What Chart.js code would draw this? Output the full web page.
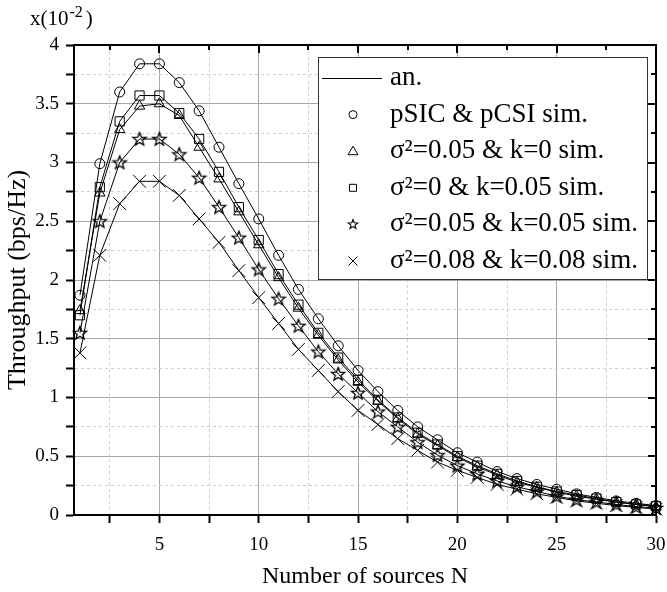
<!DOCTYPE html>
<html>
<head>
<meta charset="utf-8">
<script src="https://cdn.jsdelivr.net/npm/chart.js@4/dist/chart.umd.min.js"></script>
<style>
  html, body { margin: 0; padding: 0; background: #fff; }
  #wrap { width: 667px; height: 592px; }
</style>
</head>
<body>
<div id="wrap"><canvas id="chart" width="667" height="592"></canvas></div>
<script>
// number of sources N
const sources = [1, 2, 3, 4, 5, 6, 7, 8, 9, 10, 11, 12, 13, 14, 15, 16, 17, 18, 19, 20, 21, 22, 23, 24, 25, 26, 27, 28, 29, 30];

// throughput, x10^-2 bps/Hz
const pSicPcsi = [1.87, 2.99, 3.60, 3.84, 3.84, 3.68, 3.44, 3.13, 2.82, 2.52, 2.21, 1.92, 1.67, 1.44, 1.23, 1.05, 0.89, 0.75, 0.64, 0.53, 0.45, 0.37, 0.31, 0.26, 0.22, 0.18, 0.15, 0.12, 0.10, 0.08];
const s005k0 = [1.74, 2.74, 3.28, 3.48, 3.50, 3.40, 3.13, 2.86, 2.58, 2.30, 2.02, 1.76, 1.53, 1.32, 1.13, 0.97, 0.82, 0.69, 0.59, 0.49, 0.41, 0.34, 0.28, 0.235, 0.195, 0.16, 0.135, 0.11, 0.09, 0.07];
const s0k005 = [1.70, 2.79, 3.35, 3.57, 3.57, 3.42, 3.20, 2.92, 2.62, 2.34, 2.05, 1.79, 1.55, 1.34, 1.15, 0.98, 0.83, 0.70, 0.60, 0.50, 0.42, 0.35, 0.29, 0.24, 0.20, 0.17, 0.14, 0.11, 0.09, 0.075];
const s005k005 = [1.55, 2.50, 3.00, 3.20, 3.20, 3.07, 2.87, 2.62, 2.36, 2.09, 1.84, 1.61, 1.39, 1.20, 1.04, 0.88, 0.75, 0.62, 0.51, 0.42, 0.35, 0.29, 0.24, 0.20, 0.16, 0.13, 0.11, 0.09, 0.07, 0.06];
const s008k008 = [1.38, 2.21, 2.65, 2.84, 2.84, 2.72, 2.52, 2.32, 2.08, 1.85, 1.63, 1.41, 1.23, 1.05, 0.89, 0.77, 0.65, 0.55, 0.45, 0.38, 0.32, 0.26, 0.22, 0.18, 0.15, 0.12, 0.10, 0.08, 0.065, 0.05];

const xTicks = [2.5, 5, 7.5, 10, 12.5, 15, 17.5, 20, 22.5, 25, 27.5, 30];
const yTicks = [0, 0.25, 0.5, 0.75, 1, 1.25, 1.5, 1.75, 2, 2.25, 2.5, 2.75, 3, 3.25, 3.5, 3.75, 4];

const anLabel = 'an.';
const simLabels = ['pSIC & pCSI sim.', 'σ²=0.05 & k=0 sim.', 'σ²=0 & k=0.05 sim.', 'σ²=0.05 & k=0.05 sim.', 'σ²=0.08 & k=0.08 sim.'];

const SERIF = "'Liberation Serif', 'Times New Roman', serif";

function makeStar(outer, inner, width) {
    const size = Math.ceil(outer * 2 + 4);
    const c = document.createElement('canvas');
    c.width = size;
    c.height = size;
    const g = c.getContext('2d');
    g.strokeStyle = '#000';
    g.lineWidth = width;
    g.lineJoin = 'miter';
    g.beginPath();
    for (let i = 0; i < 10; i++) {
        const r = i % 2 === 0 ? outer : inner;
        const a = -Math.PI / 2 + i * Math.PI / 5;
        const px = size / 2 + r * Math.cos(a);
        const py = size / 2 + 0.5 + r * Math.sin(a);
        if (i === 0) g.moveTo(px, py); else g.lineTo(px, py);
    }
    g.closePath();
    g.stroke();
    return c;
}

const starBig = makeStar(7, 3, 1.3);
const starSmall = makeStar(5, 2.1, 1.1);

const series = [pSicPcsi, s005k0, s0k005, s005k005, s008k008];
const styles = [
    { pointStyle: 'circle', radius: 5 },
    { pointStyle: 'triangle', radius: 6 },
    { pointStyle: 'rect', radius: 6.5 },
    { pointStyle: starBig, radius: 6 },
    { pointStyle: 'crossRot', radius: 9 }
];

const toPoints = vals => sources.map((n, i) => ({ x: n, y: vals[i] }));

const lineSets = series.map((vals, i) => ({
    label: i === 0 ? anLabel : anLabel + ' ' + i,
    data: toPoints(vals),
    borderColor: '#000',
    borderWidth: 1,
    pointRadius: 0,
    showLine: true,
    fill: false,
    tension: 0
}));

const markerSets = series.map((vals, i) => ({
    label: simLabels[i],
    data: toPoints(vals),
    showLine: false,
    pointStyle: styles[i].pointStyle,
    pointRadius: styles[i].radius,
    pointBorderColor: '#000',
    pointBackgroundColor: 'rgba(0,0,0,0)',
    pointBorderWidth: 1,
    clip: false
}));

function isMajor(v, step) {
    return Math.abs(v / step - Math.round(v / step)) < 1e-9;
}

function drawLegendMarker(ctx, i, x, y) {
    ctx.beginPath();
    if (i === 0) {
        ctx.arc(x, y, 4, 0, Math.PI * 2);
    } else if (i === 1) {
        ctx.moveTo(x, y - 5);
        ctx.lineTo(x + 5, y + 3.5);
        ctx.lineTo(x - 5, y + 3.5);
        ctx.closePath();
    } else if (i === 2) {
        ctx.rect(x - 3.5, y - 3.5, 7, 7);
    } else if (i === 3) {
        ctx.drawImage(starSmall, Math.round(x - starSmall.width / 2), Math.round(y - starSmall.height / 2));
        return;
    } else {
        ctx.moveTo(x - 4.5, y - 4.5); ctx.lineTo(x + 4.5, y + 4.5);
        ctx.moveTo(x + 4.5, y - 4.5); ctx.lineTo(x - 4.5, y + 4.5);
    }
    ctx.stroke();
}

const framePlugin = {
    id: 'frame',
    afterDraw(chart) {
        const { ctx, chartArea: a, scales: { x, y } } = chart;
        ctx.save();

        // top and right axis lines with inward ticks
        ctx.strokeStyle = '#000';
        ctx.lineWidth = 2;
        ctx.beginPath();
        ctx.moveTo(a.left - 1, a.top);
        ctx.lineTo(a.right, a.top);
        ctx.lineTo(a.right, a.bottom + 1);
        ctx.stroke();

        ctx.beginPath();
        xTicks.forEach(v => {
            const px = Math.round(x.getPixelForValue(v));
            const len = isMajor(v, 5) ? 8 : 5;
            ctx.moveTo(px, a.top);
            ctx.lineTo(px, a.top + len);
        });
        yTicks.forEach(v => {
            const py = Math.round(y.getPixelForValue(v));
            const len = isMajor(v, 0.5) ? 8 : 5;
            ctx.moveTo(a.right, py);
            ctx.lineTo(a.right - len, py);
        });
        ctx.stroke();

        // legend box
        const lx = 318, ly = 57, lw = 329, lh = 222;
        ctx.fillStyle = '#fff';
        ctx.fillRect(lx, ly, lw, lh);
        ctx.strokeStyle = '#333';
        ctx.lineWidth = 1;
        ctx.strokeRect(lx + 0.5, ly + 0.5, lw, lh);

        const rowY = i => 78 + i * 36.6;
        ctx.fillStyle = '#000';
        ctx.strokeStyle = '#000';
        ctx.font = '27px ' + SERIF;
        ctx.textBaseline = 'middle';
        ctx.textAlign = 'left';

        ctx.beginPath();
        ctx.moveTo(322, rowY(0) + 0.5);
        ctx.lineTo(382, rowY(0) + 0.5);
        ctx.stroke();
        ctx.fillText(anLabel, 390, rowY(0));

        simLabels.forEach((lab, i) => {
            const cy = rowY(i + 1);
            drawLegendMarker(ctx, i, 353, cy);
            ctx.fillText(lab, 390, cy);
        });

        // unit label at the top left
        ctx.textBaseline = 'alphabetic';
        ctx.font = '21px ' + SERIF;
        let tx = 30;
        ctx.fillText('x(10', tx, 25);
        tx += ctx.measureText('x(10').width;
        ctx.font = '16px ' + SERIF;
        ctx.fillText('-2', tx + 1, 17);
        tx += ctx.measureText('-2').width + 4;
        ctx.font = '21px ' + SERIF;
        ctx.fillText(')', tx, 25);

        ctx.restore();
    }
};

Chart.defaults.font.family = SERIF;
Chart.defaults.color = '#000';

new Chart(document.getElementById('chart'), {
    type: 'scatter',
    data: { datasets: lineSets.concat(markerSets) },
    options: {
        responsive: false,
        animation: false,
        devicePixelRatio: 1,
        layout: { padding: { top: 45, right: 11, left: 0, bottom: 0 } },
        plugins: {
            legend: { display: false },
            tooltip: { enabled: false }
        },
        scales: {
            x: {
                type: 'linear',
                min: 0.7,
                max: 30,
                afterBuildTicks: s => { s.ticks = xTicks.map(v => ({ value: v })); },
                afterFit: s => { s.height = 77; },
                ticks: {
                    autoSkip: false,
                    maxRotation: 0,
                    padding: 1,
                    font: { size: 19, family: SERIF, lineHeight: 2.25 },
                    callback: v => isMajor(v, 5) ? String(v) : ''
                },
                grid: {
                    color: c => c.tick && isMajor(c.tick.value, 5) ? '#a8a8a8' : '#cfcfcf',
                    lineWidth: 1,
                    tickColor: '#000',
                    tickLength: 8,
                    tickWidth: 2
                },
                border: {
                    color: '#000',
                    width: 2,
                    dash: c => c.tick && !isMajor(c.tick.value, 5) ? [3, 3] : []
                },
                title: {
                    display: true,
                    text: 'Number of sources N',
                    font: { size: 24, family: SERIF },
                    padding: { top: 0, bottom: 1 }
                }
            },
            y: {
                type: 'linear',
                min: 0,
                max: 4,
                afterBuildTicks: s => { s.ticks = yTicks.map(v => ({ value: v })); },
                afterFit: s => { s.width = 74; },
                ticks: {
                    autoSkip: false,
                    padding: 7,
                    font: { size: 19, family: SERIF },
                    callback: v => isMajor(v, 0.5) ? String(v) : ''
                },
                grid: {
                    color: c => c.tick && isMajor(c.tick.value, 0.5) ? '#a8a8a8' : '#cfcfcf',
                    lineWidth: 1,
                    tickColor: '#000',
                    tickLength: 8,
                    tickWidth: 2
                },
                border: {
                    color: '#000',
                    width: 2,
                    dash: c => c.tick && !isMajor(c.tick.value, 0.5) ? [3, 3] : []
                },
                title: {
                    display: true,
                    text: 'Throughput (bps/Hz)',
                    font: { size: 26, family: SERIF },
                    padding: { top: 3, bottom: 0 }
                }
            }
        }
    },
    plugins: [framePlugin]
});
</script>
</body>
</html>
